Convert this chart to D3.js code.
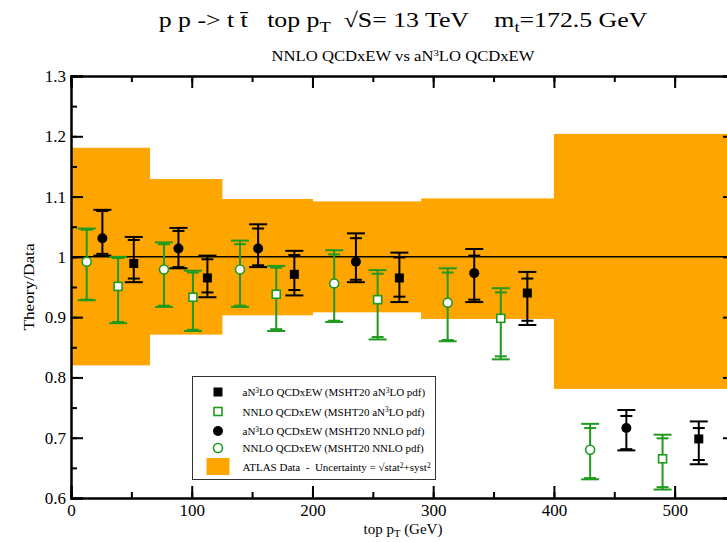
<!DOCTYPE html>
<html>
<head>
<meta charset="utf-8">
<script src="https://cdn.jsdelivr.net/npm/d3@7"></script>
<style>
  body { margin: 0; background: #fff; }
  svg { font-family: "Liberation Serif", "Times New Roman", serif; }
  .axis path, .axis line { stroke: #000; stroke-width: 2; }
</style>
</head>
<body>
<svg id="ratioChart" width="727" height="542"></svg>
<script>
// ATLAS bins (top pT, GeV) and the data uncertainty band on theory/data
var binEdges = [0, 65, 125, 200, 290, 400, 550];
var bandLow = [0.820, 0.871, 0.903, 0.908, 0.897, 0.781];
var bandHigh = [1.181, 1.129, 1.096, 1.092, 1.097, 1.204];

// aN3LO QCDxEW (MSHT20 aN3LO pdf) - filled square
var an3loPt = [52, 113, 185, 272, 378, 520];
var an3loVal = [0.989, 0.965, 0.971, 0.965, 0.940, 0.698];
var an3loOutLo = [0.958, 0.933, 0.936, 0.925, 0.887, 0.656];
var an3loOutHi = [1.033, 1.002, 1.010, 1.007, 0.975, 0.727];
var an3loInLo = [0.964, 0.941, 0.945, 0.934, 0.894, 0.663];
var an3loInHi = [1.028, 0.996, 1.003, 0.999, 0.964, 0.716];

// NNLO QCDxEW (MSHT20 aN3LO pdf) - open square
var nnloAn3Pt = [39, 101, 170, 254, 356, 490];
var nnloAn3Val = [0.951, 0.933, 0.938, 0.929, 0.898, 0.665];
var nnloAn3OutLo = [0.890, 0.877, 0.877, 0.863, 0.830, 0.614];
var nnloAn3OutHi = [1.000, 0.977, 0.985, 0.978, 0.948, 0.705];
var nnloAn3InLo = [0.892, 0.879, 0.880, 0.867, 0.835, 0.618];
var nnloAn3InHi = [0.998, 0.974, 0.982, 0.972, 0.941, 0.699];

// aN3LO QCDxEW (MSHT20 NNLO pdf) - filled circle
var an3loNnloPt = [26, 89, 155, 236, 334, 460];
var an3loNnloVal = [1.031, 1.014, 1.014, 0.992, 0.973, 0.716];
var an3loNnloOutLo = [1.002, 0.981, 0.983, 0.958, 0.925, 0.679];
var an3loNnloOutHi = [1.078, 1.048, 1.054, 1.039, 1.013, 0.746];
var an3loNnloInLo = [1.005, 0.983, 0.986, 0.962, 0.929, 0.681];
var an3loNnloInHi = [1.076, 1.043, 1.047, 1.031, 1.002, 0.736];

// NNLO QCDxEW (MSHT20 NNLO pdf) - open circle
var nnloPt = [13, 77, 140, 218, 312, 430];
var nnloVal = [0.992, 0.979, 0.979, 0.956, 0.924, 0.680];
var nnloOutLo = [0.928, 0.917, 0.917, 0.892, 0.860, 0.631];
var nnloOutHi = [1.047, 1.024, 1.027, 1.011, 0.981, 0.723];
var nnloInLo = [0.929, 0.919, 0.919, 0.894, 0.862, 0.633];
var nnloInHi = [1.045, 1.021, 1.021, 1.004, 0.974, 0.716];

var xTicks = [0, 100, 200, 300, 400, 500];
var yTicks = [0.6, 0.7, 0.8, 0.9, 1.0, 1.1, 1.2, 1.3];

var serif = "'Liberation Serif', 'Times New Roman', serif";
var green = "#1f9a1f";
var orange = "#ffa500";

function buildSeries(pt, val, outLo, outHi, inLo, inHi, shape, filled) {
  var color = filled ? "#000" : green;
  return pt.map(function(p, i) {
    return { pt: p, value: val[i], outLo: outLo[i], outHi: outHi[i],
      inLo: inLo[i], inHi: inHi[i], shape: shape, filled: filled, color: color };
  });
}

var series = [
  buildSeries(nnloPt, nnloVal, nnloOutLo, nnloOutHi, nnloInLo, nnloInHi, "circle", false),
  buildSeries(an3loNnloPt, an3loNnloVal, an3loNnloOutLo, an3loNnloOutHi, an3loNnloInLo, an3loNnloInHi, "circle", true),
  buildSeries(nnloAn3Pt, nnloAn3Val, nnloAn3OutLo, nnloAn3OutHi, nnloAn3InLo, nnloAn3InHi, "square", false),
  buildSeries(an3loPt, an3loVal, an3loOutLo, an3loOutHi, an3loInLo, an3loInHi, "square", true)
];

var svg = d3.select("#ratioChart"),
  margin = { top: 76, right: -8, bottom: 44, left: 71 },
  width = +svg.attr("width") - margin.left - margin.right,
  height = +svg.attr("height") - margin.top - margin.bottom;

var x = d3.scaleLinear().domain([0, 550]).range([0, width]);
var y = d3.scaleLinear().domain([0.6, 1.3]).range([height, 0]);

var g = svg.append("g")
  .attr("transform", "translate(" + margin.left + "," + margin.top + ")");

// data uncertainty band
var bins = bandLow.map(function(lo, i) {
  return { x0: binEdges[i], x1: binEdges[i + 1], lo: lo, hi: bandHigh[i] };
});

g.selectAll(".band")
  .data(bins)
  .enter()
  .append("rect")
  .attr("class", "band")
  .attr("x", function(d) { return x(d.x0); })
  .attr("width", function(d) { return x(d.x1) - x(d.x0) + 0.5; })
  .attr("y", function(d) { return y(d.hi); })
  .attr("height", function(d) { return y(d.lo) - y(d.hi); })
  .attr("fill", orange);

// reference line at 1
g.append("line")
  .attr("x1", 0).attr("x2", width)
  .attr("y1", y(1)).attr("y2", y(1))
  .attr("stroke", "#000").attr("stroke-width", 1.5);

// axes with inward ticks on all four sides
var minorX = d3.range(0, 551, 50);
var minorY = d3.range(0.6, 1.301, 0.05);

function addAxis(axis, shift) {
  var a = g.append("g").attr("class", "axis");
  if (shift) a.attr("transform", shift);
  a.call(axis);
  a.attr("font-family", serif).attr("font-size", 17);
  a.selectAll("text").attr("fill", "#000").style("font-family", serif);
  return a;
}

addAxis(d3.axisBottom(x).tickValues(minorX).tickSize(-6).tickFormat(""), "translate(0," + height + ")");
addAxis(d3.axisBottom(x).tickValues(xTicks).tickSize(-12).tickPadding(6)
  .tickFormat(function(d) { return d; }), "translate(0," + height + ")");

addAxis(d3.axisTop(x).tickValues(minorX).tickSize(-6).tickFormat(""));
addAxis(d3.axisTop(x).tickValues(xTicks).tickSize(-12).tickFormat(""));

addAxis(d3.axisLeft(y).tickValues(minorY).tickSize(-6).tickFormat(""));
addAxis(d3.axisLeft(y).tickValues(yTicks).tickSize(-12).tickPadding(5)
  .tickFormat(function(d) { return d === 1 ? "1" : d3.format(".1f")(d); }));

addAxis(d3.axisRight(y).tickValues(minorY).tickSize(-6).tickFormat(""), "translate(" + width + ",0)");
addAxis(d3.axisRight(y).tickValues(yTicks).tickSize(-12).tickFormat(""), "translate(" + width + ",0)");

// error bars and markers
var points = g.selectAll(".series")
  .data(series)
  .enter()
  .append("g")
  .attr("class", "series")
  .selectAll(".pt")
  .data(function(d) { return d; })
  .enter()
  .append("g")
  .attr("class", "pt")
  .attr("transform", function(d) { return "translate(" + x(d.pt) + ",0)"; });

points.append("line")
  .attr("x1", 0).attr("x2", 0)
  .attr("y1", function(d) { return y(d.outLo); })
  .attr("y2", function(d) { return y(d.outHi); })
  .attr("stroke", function(d) { return d.color; })
  .attr("stroke-width", 2);

// wide caps for the outer band, narrow caps for the inner one
[["outLo", 9], ["outHi", 9], ["inLo", 6], ["inHi", 6]].forEach(function(c) {
  points.append("line")
    .attr("x1", -c[1]).attr("x2", c[1])
    .attr("y1", function(d) { return y(d[c[0]]); })
    .attr("y2", function(d) { return y(d[c[0]]); })
    .attr("stroke", function(d) { return d.color; })
    .attr("stroke-width", 2);
});

function drawMarker(sel) {
  sel.each(function(d) {
    var s = d3.select(this);
    var cy = d.cy !== undefined ? d.cy : y(d.value);
    if (d.shape === "circle") {
      s.append("circle")
        .attr("cx", 0).attr("cy", cy)
        .attr("r", d.filled ? 5 : 4.5)
        .attr("fill", d.filled ? "#000" : "#fff")
        .attr("stroke", d.color)
        .attr("stroke-width", d.filled ? 0 : 1.6);
    } else {
      var h = d.filled ? 4.5 : 4;
      s.append("rect")
        .attr("x", -h).attr("y", cy - h)
        .attr("width", 2 * h).attr("height", 2 * h)
        .attr("fill", d.filled ? "#000" : "#fff")
        .attr("stroke", d.color)
        .attr("stroke-width", d.filled ? 0 : 1.6);
    }
  });
}
points.call(drawMarker);

// legend
var legendItems = [
  { shape: "square", filled: true, color: "#000", label: ["aN", "3", "LO QCDxEW (MSHT20 aN", "3", "LO pdf)"] },
  { shape: "square", filled: false, color: green, label: ["NNLO QCDxEW (MSHT20 aN", "3", "LO pdf)"] },
  { shape: "circle", filled: true, color: "#000", label: ["aN", "3", "LO QCDxEW (MSHT20 NNLO pdf)"] },
  { shape: "circle", filled: false, color: green, label: ["NNLO QCDxEW (MSHT20 NNLO pdf)"] },
  { shape: "band", label: ["ATLAS Data  -  Uncertainty = \u221Astat", "2", "+syst", "2"] }
];
var legendRowY = [392, 411.5, 431, 448, 467];

var legend = svg.append("g").attr("class", "legend");
legend.append("rect")
  .attr("x", 192.5).attr("y", 376.5)
  .attr("width", 243).attr("height", 103)
  .attr("fill", "#fff").attr("stroke", "#333").attr("stroke-width", 1);

var rows = legend.selectAll(".row")
  .data(legendItems)
  .enter()
  .append("g")
  .attr("class", "row")
  .attr("transform", function(d, i) { return "translate(218," + legendRowY[i] + ")"; });

rows.filter(function(d) { return d.shape !== "band"; })
  .each(function(d) { d.cy = 0; })
  .call(drawMarker);

rows.filter(function(d) { return d.shape === "band"; })
  .append("rect")
  .attr("x", -11.5).attr("y", -9)
  .attr("width", 23).attr("height", 17)
  .attr("fill", orange);

rows.append("text")
  .attr("x", 24.5).attr("y", 4)
  .attr("font-size", "11px")
  .attr("fill", "#000")
  .attr("xml:space", "preserve")
  .each(function(d) {
    var t = d3.select(this);
    d.label.forEach(function(part, i) {
      var sup = i % 2 === 1;
      t.append("tspan")
        .attr("font-size", sup ? "7.5px" : "11px")
        .attr("dy", sup ? "-0.45em" : (i > 0 ? "0.31em" : null))
        .text(part);
    });
  });

// titles (the original font is drawn a little wide, hence the x stretch)
var cx = margin.left + width / 2;
var title = svg.append("text")
  .attr("transform", "translate(" + cx + ",27) scale(1.23,1)")
  .attr("text-anchor", "middle")
  .attr("font-size", "21px")
  .attr("xml:space", "preserve");
title.append("tspan").text("p p -> t t\u0304   top p");
title.append("tspan").attr("font-size", "15px").attr("dy", "0.3em").text("T");
title.append("tspan").attr("dy", "-0.21em").text("  \u221AS= 13 TeV    m");
title.append("tspan").attr("font-size", "15px").attr("dy", "0.3em").text("t");
title.append("tspan").attr("dy", "-0.21em").text("=172.5 GeV");

var subtitle = svg.append("text")
  .attr("transform", "translate(" + cx + ",61) scale(1.19,1)")
  .attr("text-anchor", "middle")
  .attr("font-size", "14px");
subtitle.append("tspan").text("NNLO QCDxEW vs aN");
subtitle.append("tspan").attr("font-size", "9px").attr("dy", "-0.55em").text("3");
subtitle.append("tspan").attr("dy", "0.36em").text("LO QCDxEW");

svg.append("text")
  .attr("transform", "translate(34," + (margin.top + y(0.95)) + ") rotate(-90) scale(1.15,1)")
  .attr("text-anchor", "middle")
  .attr("font-size", "15px")
  .text("Theory/Data");

var xlab = svg.append("text")
  .attr("x", cx).attr("y", 534)
  .attr("text-anchor", "middle")
  .attr("font-size", "15px")
  .attr("xml:space", "preserve");
xlab.append("tspan").text("top p");
xlab.append("tspan").attr("font-size", "10.5px").attr("dy", "0.3em").text("T");
xlab.append("tspan").attr("dy", "-0.21em").text(" (GeV)");
</script>
</body>
</html>
